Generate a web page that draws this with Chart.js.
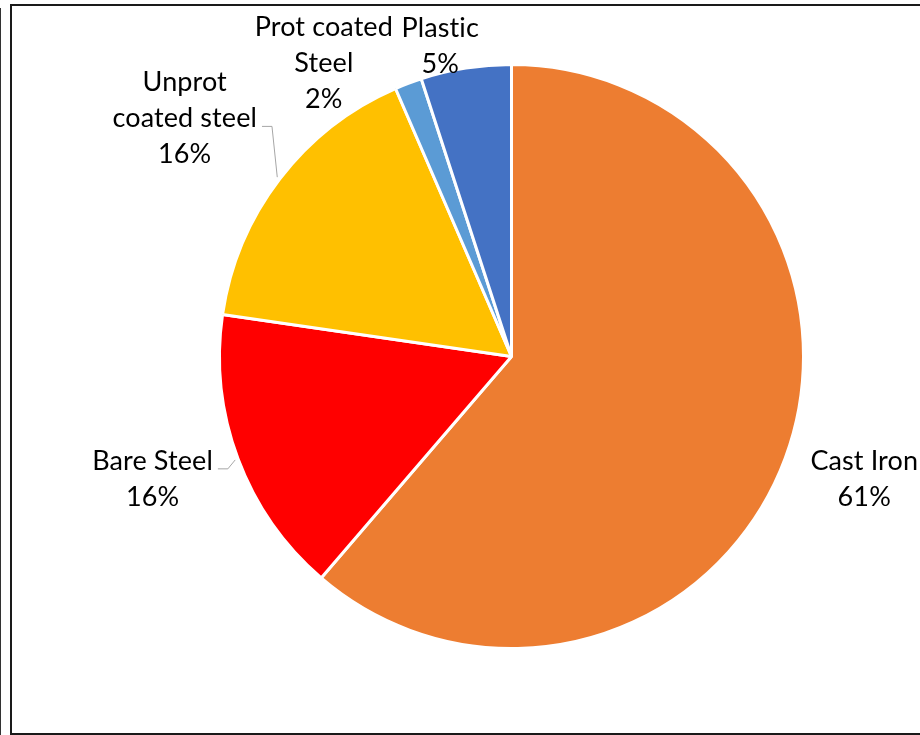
<!DOCTYPE html>
<html>
<head>
<meta charset="utf-8">
<script src="https://cdn.jsdelivr.net/npm/chart.js@4/dist/chart.umd.min.js"></script>
<style>
  html, body { margin: 0; padding: 0; background: #fff; overflow: hidden; }
  #wrap { position: relative; width: 920px; height: 735px; }
  #frame { position: absolute; left: 10px; top: 4px; width: 1000px; height: 727px; border: 2px solid #1a1a1a; box-sizing: content-box; }
  #edge { position: absolute; left: 0; top: 8px; width: 1px; height: 727px; background: #333; }
  canvas { position: absolute; left: 0; top: 0; }
</style>
</head>
<body>
<div id="wrap">
  <div id="frame"></div>
  <div id="edge"></div>
  <canvas id="c" width="920" height="735"></canvas>
</div>
<script>
// ---- data ----
const categories = ['Cast Iron', 'Bare Steel', 'Unprot coated steel', 'Prot coated Steel', 'Plastic'];
const shares = [61.3, 16.0, 16.2, 1.5, 5.0];
const sliceColors = ['#ED7D31', '#FF0000', '#FFC000', '#5B9BD5', '#4472C4'];

// ---- label placement (styling, not data) ----
const labelPlacement = [
  { dist: 373, dx: 3,   dy: -8,  leader: false },
  { dist: 379, dx: -4,  dy: -11, leader: true, leaderLine: 0 },
  { dist: 404, dx: -6,  dy: 7,   leader: true, leaderLine: 1 },
  { dist: 330, dx: -71, dy: 15,  leader: false },
  { dist: 315, dx: -22, dy: 0,   leader: false }
];
const FONT = '27px Lato, "Open Sans", sans-serif';
const LINE_H = 36;
const CAP_HALF = 9.5;
const WRAP_W = 160;

function wrapText(ctx, text, maxW) {
  const words = text.split(' ');
  const lines = [];
  let cur = '';
  for (const w of words) {
    const t = cur ? cur + ' ' + w : w;
    if (cur && ctx.measureText(t).width > maxW) { lines.push(cur); cur = w; }
    else cur = t;
  }
  if (cur) lines.push(cur);
  return lines;
}

const pieLabels = {
  id: 'pieLabels',
  afterDatasetsDraw(chart) {
    const ctx = chart.ctx;
    const meta = chart.getDatasetMeta(0);
    const data = chart.data.datasets[0].data;
    const total = data.reduce((a, b) => a + b, 0);
    ctx.save();
    ctx.font = FONT;
    if ('letterSpacing' in ctx) ctx.letterSpacing = '0.1px';
    ctx.fillStyle = '#000';
    ctx.textAlign = 'center';
    ctx.textBaseline = 'alphabetic';
    meta.data.forEach((arc, i) => {
      const p = arc.getProps(['x', 'y', 'startAngle', 'endAngle', 'outerRadius'], true);
      const mid = (p.startAngle + p.endAngle) / 2;
      const cfg = labelPlacement[i];
      const ax = p.x + Math.cos(mid) * cfg.dist + cfg.dx;
      const ay = p.y + Math.sin(mid) * cfg.dist + cfg.dy;
      const pct = Math.round(data[i] / total * 100 + 1e-6) + '%';
      const lines = wrapText(ctx, chart.data.labels[i], WRAP_W).concat([pct]);
      const n = lines.length;
      lines.forEach((ln, k) => {
        const cy = ay + (k - (n - 1) / 2) * LINE_H;
        ctx.fillText(ln, ax, cy + CAP_HALF);
      });
      if (cfg.leader) {
        const k = cfg.leaderLine;
        const ln = lines[k];
        const w = ctx.measureText(ln).width;
        const ly = ay + (k - (n - 1) / 2) * LINE_H + CAP_HALF - 1;
        const sx = ax + w / 2 + 5;
        const ex = p.x + Math.cos(mid) * (p.outerRadius + 3);
        const ey = p.y + Math.sin(mid) * (p.outerRadius + 3);
        const elbowX = Math.min(sx + 10, ex);
        ctx.strokeStyle = '#A6A6A6';
        ctx.lineWidth = 1;
        ctx.beginPath();
        ctx.moveTo(sx, ly);
        ctx.lineTo(elbowX, ly);
        ctx.lineTo(ex, ey);
        ctx.stroke();
      }
    });
    ctx.restore();
  }
};

new Chart(document.getElementById('c'), {
  type: 'pie',
  data: {
    labels: categories,
    datasets: [{
      data: shares,
      backgroundColor: sliceColors,
      borderColor: '#FFFFFF',
      borderWidth: 3,
      radius: 292
    }]
  },
  options: {
    responsive: false,
    animation: false,
    layout: { padding: { left: 103, right: 0, top: 0, bottom: 22 } },
    plugins: { legend: { display: false }, tooltip: { enabled: false } }
  },
  plugins: [pieLabels]
});
</script>
</body>
</html>
